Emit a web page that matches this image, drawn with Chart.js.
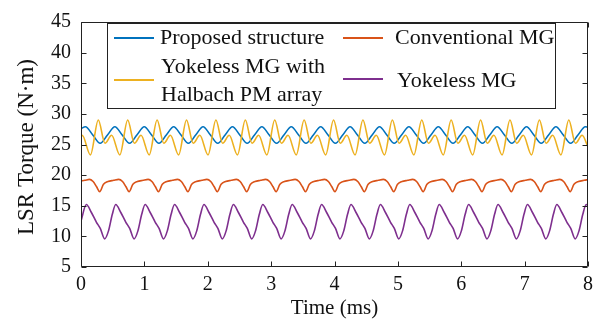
<!DOCTYPE html>
<html>
<head>
<meta charset="utf-8">
<script src="https://cdn.jsdelivr.net/npm/chart.js@4"></script>
<style>
  html, body { margin: 0; padding: 0; background: #ffffff; }
  #wrap { width: 601px; height: 322px; }
</style>
</head>
<body>
<div id="wrap"><canvas id="c" width="601" height="322" style="width:601px;height:322px"></canvas></div>
<script>
// ---------- data (time in ms, torque in N·m) ----------
const seriesLabels = [
  ["Proposed structure"],
  ["Conventional MG"],
  ["Yokeless MG with", "Halbach PM array"],
  ["Yokeless MG"]
];
const seriesColors = ["#0072BD", "#D95319", "#EDB120", "#7E2F8E"];

const xTickLabels = ["0", "1", "2", "3", "4", "5", "6", "7", "8"];
const yTickLabels = ["5", "10", "15", "20", "25", "30", "35", "40", "45"];
const xTitle = "Time (ms)";
const yTitle = "LSR Torque (N·m)";

// Proposed structure (blue)
const proposedT = [0,
  0.070, 0.186, 0.302, 0.418,
  0.534, 0.650, 0.766, 0.882,
  0.998, 1.114, 1.230, 1.346,
  1.462, 1.578, 1.694, 1.810,
  1.926, 2.042, 2.158, 2.274,
  2.390, 2.506, 2.622, 2.738,
  2.854, 2.970, 3.086, 3.202,
  3.318, 3.434, 3.550, 3.666,
  3.782, 3.898, 4.014, 4.130,
  4.246, 4.362, 4.478, 4.594,
  4.710, 4.826, 4.942, 5.058,
  5.174, 5.290, 5.406, 5.522,
  5.638, 5.754, 5.870, 5.986,
  6.102, 6.218, 6.334, 6.450,
  6.566, 6.682, 6.798, 6.914,
  7.030, 7.146, 7.262, 7.378,
  7.494, 7.610, 7.726, 7.842,
  7.958, 8.0];
const proposedV = [27.6,
  27.9, 26.55, 25.2, 26.55,
  27.9, 26.55, 25.2, 26.55,
  27.9, 26.55, 25.2, 26.55,
  27.9, 26.55, 25.2, 26.55,
  27.9, 26.55, 25.2, 26.55,
  27.9, 26.55, 25.2, 26.55,
  27.9, 26.55, 25.2, 26.55,
  27.9, 26.55, 25.2, 26.55,
  27.9, 26.55, 25.2, 26.55,
  27.9, 26.55, 25.2, 26.55,
  27.9, 26.55, 25.2, 26.55,
  27.9, 26.55, 25.2, 26.55,
  27.9, 26.55, 25.2, 26.55,
  27.9, 26.55, 25.2, 26.55,
  27.9, 26.55, 25.2, 26.55,
  27.9, 26.55, 25.2, 26.55,
  27.9, 26.55, 25.2, 26.55,
  27.9, 27.8];

// Conventional MG (orange)
const conventionalT = [0, 0.061, 0.131, 0.191, 0.246,
  0.295, 0.355, 0.425, 0.515, 0.595, 0.655, 0.710,
  0.759, 0.819, 0.889, 0.979, 1.059, 1.119, 1.174,
  1.223, 1.283, 1.353, 1.443, 1.523, 1.583, 1.638,
  1.687, 1.747, 1.817, 1.907, 1.987, 2.047, 2.102,
  2.151, 2.211, 2.281, 2.371, 2.451, 2.511, 2.566,
  2.615, 2.675, 2.745, 2.835, 2.915, 2.975, 3.030,
  3.079, 3.139, 3.209, 3.299, 3.379, 3.439, 3.494,
  3.543, 3.603, 3.673, 3.763, 3.843, 3.903, 3.958,
  4.007, 4.067, 4.137, 4.227, 4.307, 4.367, 4.422,
  4.471, 4.531, 4.601, 4.691, 4.771, 4.831, 4.886,
  4.935, 4.995, 5.065, 5.155, 5.235, 5.295, 5.350,
  5.399, 5.459, 5.529, 5.619, 5.699, 5.759, 5.814,
  5.863, 5.923, 5.993, 6.083, 6.163, 6.223, 6.278,
  6.327, 6.387, 6.457, 6.547, 6.627, 6.687, 6.742,
  6.791, 6.851, 6.921, 7.011, 7.091, 7.151, 7.206,
  7.255, 7.315, 7.385, 7.475, 7.555, 7.615, 7.670,
  7.719, 7.779, 7.849, 7.939, 8.0];
const conventionalV = [19.05, 19.15, 19.3, 18.95, 18.1,
  17.3, 18.5, 18.95, 19.15, 19.3, 18.95, 18.1,
  17.3, 18.5, 18.95, 19.15, 19.3, 18.95, 18.1,
  17.3, 18.5, 18.95, 19.15, 19.3, 18.95, 18.1,
  17.3, 18.5, 18.95, 19.15, 19.3, 18.95, 18.1,
  17.3, 18.5, 18.95, 19.15, 19.3, 18.95, 18.1,
  17.3, 18.5, 18.95, 19.15, 19.3, 18.95, 18.1,
  17.3, 18.5, 18.95, 19.15, 19.3, 18.95, 18.1,
  17.3, 18.5, 18.95, 19.15, 19.3, 18.95, 18.1,
  17.3, 18.5, 18.95, 19.15, 19.3, 18.95, 18.1,
  17.3, 18.5, 18.95, 19.15, 19.3, 18.95, 18.1,
  17.3, 18.5, 18.95, 19.15, 19.3, 18.95, 18.1,
  17.3, 18.5, 18.95, 19.15, 19.3, 18.95, 18.1,
  17.3, 18.5, 18.95, 19.15, 19.3, 18.95, 18.1,
  17.3, 18.5, 18.95, 19.15, 19.3, 18.95, 18.1,
  17.3, 18.5, 18.95, 19.15, 19.3, 18.95, 18.1,
  17.3, 18.5, 18.95, 19.15, 19.3, 18.95, 18.1,
  17.3, 18.5, 18.95, 19.15, 19.25];

// Yokeless MG with Halbach PM array (yellow)
const halbachT = [0, 0.019, 0.149,
  0.273, 0.378, 0.483, 0.613,
  0.737, 0.842, 0.947, 1.077,
  1.201, 1.306, 1.411, 1.541,
  1.665, 1.770, 1.875, 2.005,
  2.129, 2.234, 2.339, 2.469,
  2.593, 2.698, 2.803, 2.933,
  3.057, 3.162, 3.267, 3.397,
  3.521, 3.626, 3.731, 3.861,
  3.985, 4.090, 4.195, 4.325,
  4.449, 4.554, 4.659, 4.789,
  4.913, 5.018, 5.123, 5.253,
  5.377, 5.482, 5.587, 5.717,
  5.841, 5.946, 6.051, 6.181,
  6.305, 6.410, 6.515, 6.645,
  6.769, 6.874, 6.979, 7.109,
  7.233, 7.338, 7.443, 7.573,
  7.697, 7.802, 7.907, 8.0];
const halbachV = [26.2, 26.5, 23.3,
  29.0, 25.2, 26.5, 23.3,
  29.0, 25.2, 26.5, 23.3,
  29.0, 25.2, 26.5, 23.3,
  29.0, 25.2, 26.5, 23.3,
  29.0, 25.2, 26.5, 23.3,
  29.0, 25.2, 26.5, 23.3,
  29.0, 25.2, 26.5, 23.3,
  29.0, 25.2, 26.5, 23.3,
  29.0, 25.2, 26.5, 23.3,
  29.0, 25.2, 26.5, 23.3,
  29.0, 25.2, 26.5, 23.3,
  29.0, 25.2, 26.5, 23.3,
  29.0, 25.2, 26.5, 23.3,
  29.0, 25.2, 26.5, 23.3,
  29.0, 25.2, 26.5, 23.3,
  29.0, 25.2, 26.5, 23.3,
  29.0, 25.2, 26.5, 24.6];

// Yokeless MG (purple)
const yokelessT = [0,
  0.084, 0.164, 0.244, 0.304, 0.374, 0.434, 0.494,
  0.548, 0.628, 0.708, 0.768, 0.838, 0.898, 0.958,
  1.012, 1.092, 1.172, 1.232, 1.302, 1.362, 1.422,
  1.476, 1.556, 1.636, 1.696, 1.766, 1.826, 1.886,
  1.940, 2.020, 2.100, 2.160, 2.230, 2.290, 2.350,
  2.404, 2.484, 2.564, 2.624, 2.694, 2.754, 2.814,
  2.868, 2.948, 3.028, 3.088, 3.158, 3.218, 3.278,
  3.332, 3.412, 3.492, 3.552, 3.622, 3.682, 3.742,
  3.796, 3.876, 3.956, 4.016, 4.086, 4.146, 4.206,
  4.260, 4.340, 4.420, 4.480, 4.550, 4.610, 4.670,
  4.724, 4.804, 4.884, 4.944, 5.014, 5.074, 5.134,
  5.188, 5.268, 5.348, 5.408, 5.478, 5.538, 5.598,
  5.652, 5.732, 5.812, 5.872, 5.942, 6.002, 6.062,
  6.116, 6.196, 6.276, 6.336, 6.406, 6.466, 6.526,
  6.580, 6.660, 6.740, 6.800, 6.870, 6.930, 6.990,
  7.044, 7.124, 7.204, 7.264, 7.334, 7.394, 7.454,
  7.508, 7.588, 7.668, 7.728, 7.798, 7.858, 7.918,
  7.972, 8.0];
const yokelessV = [12.5,
  15.2, 13.9, 12.3, 11.3, 9.6, 10.9, 13.6,
  15.2, 13.9, 12.3, 11.3, 9.6, 10.9, 13.6,
  15.2, 13.9, 12.3, 11.3, 9.6, 10.9, 13.6,
  15.2, 13.9, 12.3, 11.3, 9.6, 10.9, 13.6,
  15.2, 13.9, 12.3, 11.3, 9.6, 10.9, 13.6,
  15.2, 13.9, 12.3, 11.3, 9.6, 10.9, 13.6,
  15.2, 13.9, 12.3, 11.3, 9.6, 10.9, 13.6,
  15.2, 13.9, 12.3, 11.3, 9.6, 10.9, 13.6,
  15.2, 13.9, 12.3, 11.3, 9.6, 10.9, 13.6,
  15.2, 13.9, 12.3, 11.3, 9.6, 10.9, 13.6,
  15.2, 13.9, 12.3, 11.3, 9.6, 10.9, 13.6,
  15.2, 13.9, 12.3, 11.3, 9.6, 10.9, 13.6,
  15.2, 13.9, 12.3, 11.3, 9.6, 10.9, 13.6,
  15.2, 13.9, 12.3, 11.3, 9.6, 10.9, 13.6,
  15.2, 13.9, 12.3, 11.3, 9.6, 10.9, 13.6,
  15.2, 13.9, 12.3, 11.3, 9.6, 10.9, 13.6,
  15.2, 13.9, 12.3, 11.3, 9.6, 10.9, 13.6,
  15.2, 15.0];

// ---------- build chart ----------
const SERIF = "'Liberation Serif', 'Times New Roman', serif";
function pts(ts, vs) {
  const n = Math.min(ts.length, vs.length);
  const out = [];
  for (let i = 0; i < n; i++) out.push({ x: ts[i], y: vs[i] });
  return out;
}

const seriesT = [proposedT, conventionalT, halbachT, yokelessT];
const seriesV = [proposedV, conventionalV, halbachV, yokelessV];
const drawOrder = [3, 2, 1, 0];

const datasets = seriesLabels.map((lab, i) => ({
  label: lab.join(" "),
  data: pts(seriesT[i], seriesV[i]),
  borderColor: seriesColors[i],
  backgroundColor: seriesColors[i],
  borderWidth: 1.6,
  pointRadius: 0,
  cubicInterpolationMode: "monotone",
  fill: false,
  order: drawOrder[i]
}));

const framePlugin = {
  id: "frame",
  afterDraw(chart) {
    const ctx = chart.ctx;
    const a = chart.chartArea;
    const xs = chart.scales.x, ys = chart.scales.y;
    ctx.save();
    ctx.strokeStyle = "#222";
    ctx.lineWidth = 1;
    const L = Math.round(a.left) + 0.5, R = Math.round(a.right) - 0.5;
    const T = Math.round(a.top) + 0.5, B = Math.round(a.bottom) - 0.5;
    ctx.beginPath();
    ctx.rect(L, T, R - L, B - T);
    const tl = 5;
    xs.ticks.forEach(t => {
      const px = Math.round(xs.getPixelForValue(t.value)) + 0.5;
      ctx.moveTo(px, B); ctx.lineTo(px, B - tl);
      ctx.moveTo(px, T); ctx.lineTo(px, T + tl);
    });
    ys.ticks.forEach(t => {
      const py = Math.round(ys.getPixelForValue(t.value)) + 0.5;
      ctx.moveTo(L, py); ctx.lineTo(L + tl, py);
      ctx.moveTo(R, py); ctx.lineTo(R - tl, py);
    });
    ctx.stroke();

    // y axis title
    ctx.save();
    ctx.translate(27, 147);
    ctx.rotate(-Math.PI / 2);
    ctx.font = "23px " + SERIF;
    ctx.fillStyle = "#111";
    ctx.textAlign = "center";
    ctx.textBaseline = "middle";
    ctx.fillText(yTitle, 0, 0);
    ctx.restore();

    // legend box
    const bx = 107.5, by = 23.5, bw = 448, bh = 85;
    ctx.fillStyle = "#fff";
    ctx.fillRect(bx, by, bw, bh);
    ctx.strokeStyle = "#222";
    ctx.lineWidth = 1;
    ctx.strokeRect(bx, by, bw, bh);
    const entries = [
      { lx: 114, ly: 38, tx: 160, lines: [38] },
      { lx: 343, ly: 38, tx: 395, lines: [38] },
      { lx: 114, ly: 80, tx: 161, lines: [67, 95] },
      { lx: 343, ly: 79, tx: 397, lines: [81] }
    ];
    ctx.font = "22px " + SERIF;
    ctx.textBaseline = "middle";
    ctx.textAlign = "left";
    entries.forEach((e, i) => {
      ctx.strokeStyle = seriesColors[i];
      ctx.lineWidth = 2;
      ctx.beginPath();
      ctx.moveTo(e.lx, e.ly); ctx.lineTo(e.lx + 40, e.ly);
      ctx.stroke();
      ctx.fillStyle = "#111";
      seriesLabels[i].forEach((txt, j) => ctx.fillText(txt, e.tx, e.lines[j]));
    });
    ctx.restore();
  }
};

new Chart(document.getElementById("c"), {
  type: "line",
  data: { datasets },
  options: {
    responsive: false,
    animation: false,
    devicePixelRatio: 1,
    layout: { padding: { top: 11, right: 13, left: 0, bottom: 0 } },
    plugins: { legend: { display: false }, tooltip: { enabled: false } },
    scales: {
      x: {
        type: "linear",
        min: 0, max: 8,
        grid: { display: false, drawTicks: false },
        border: { display: false },
        ticks: {
          stepSize: 1, padding: 6, color: "#111",
          font: { family: SERIF, size: 20 },
          maxRotation: 0,
          callback: (v) => xTickLabels[Math.round(v)]
        },
        title: { display: true, text: xTitle, color: "#111",
          font: { family: SERIF, size: 21 }, padding: { top: 0, bottom: 1 } },
        afterFit: (s) => { s.height = 55; }
      },
      y: {
        min: 5, max: 45,
        grid: { display: false, drawTicks: false },
        border: { display: false },
        ticks: {
          stepSize: 5, padding: 10, color: "#111",
          font: { family: SERIF, size: 20 },
          callback: (v) => yTickLabels[Math.round((v - 5) / 5)]
        },
        afterFit: (s) => { s.width = 81; }
      }
    }
  },
  plugins: [framePlugin]
});
</script>
</body>
</html>
